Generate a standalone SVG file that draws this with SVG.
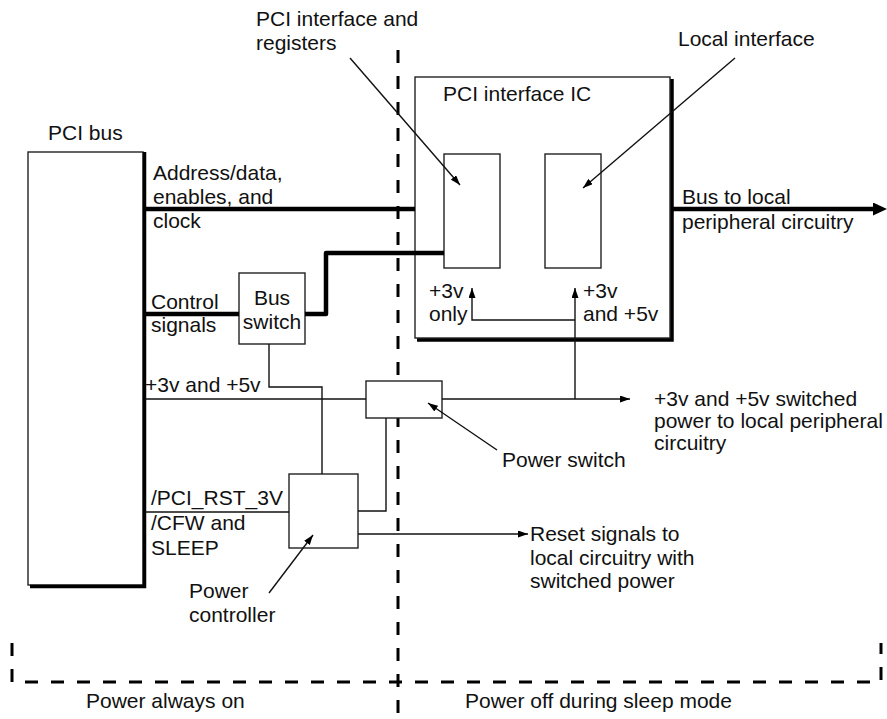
<svg xmlns="http://www.w3.org/2000/svg" width="887" height="719" viewBox="0 0 887 719">
<defs>
<style>
text{font-family:"Liberation Sans",Arial,Helvetica,sans-serif;font-size:21px;fill:#111}
.box{fill:#fff;stroke:#222;stroke-width:1.4}
.shadow{fill:none;stroke:#000;stroke-width:3.5}
.thin{fill:none;stroke:#111;stroke-width:1.4}
.thick{fill:none;stroke:#000;stroke-width:4.5;stroke-linejoin:round}
.dash{fill:none;stroke:#000;stroke-width:3;stroke-dasharray:13 13}
.mid{text-anchor:middle}
</style>
<marker id="arr" markerUnits="userSpaceOnUse" markerWidth="10" markerHeight="7" refX="10" refY="3.5" orient="auto">
<path d="M0,0 L10,3.5 L0,7 z" fill="#000"/>
</marker>
<marker id="bigarr" markerUnits="userSpaceOnUse" markerWidth="15" markerHeight="13" refX="1" refY="6.5" orient="auto">
<path d="M0,0 L14,6.5 L0,13 z" fill="#000"/>
</marker>
</defs>

<g id="region-dividers">
<path class="dash" d="M398,50 V719"/>
<path class="dash" d="M12,643 V682 H881 V643"/>
<text x="86" y="708">Power always on</text>
<text x="465" y="708">Power off during sleep mode</text>
</g>

<g id="pci-bus">
<rect class="box" x="28" y="152" width="115" height="433"/>
<polyline class="shadow" points="30,586.5 144.5,586.5 144.5,152"/>
<text x="48" y="140">PCI bus</text>
</g>

<g id="pci-interface-ic">
<rect class="box" x="415" y="77" width="255" height="261"/>
<polyline class="shadow" points="417,340 672,340 672,79"/>
<text x="443" y="101">PCI interface IC</text>
<text x="429" y="298">+3v</text>
<text x="429" y="321">only</text>
<text x="583" y="298">+3v</text>
<text x="583" y="321">and +5v</text>
</g>

<g id="pci-registers">
<rect class="box" x="444" y="154" width="56" height="114"/>
<text x="256" y="26">PCI interface and</text>
<text x="256" y="50">registers</text>
</g>

<g id="local-interface">
<rect class="box" x="545" y="154" width="56" height="114"/>
<text x="678" y="46">Local interface</text>
</g>

<g id="bus-switch">
<rect class="box" x="239" y="273" width="66" height="71"/>
<text class="mid" x="272" y="305">Bus</text>
<text class="mid" x="272" y="329">switch</text>
</g>

<g id="power-switch">
<rect class="box" x="366" y="381" width="76" height="37"/>
<text x="502" y="467">Power switch</text>
</g>

<g id="power-controller">
<rect class="box" x="289" y="474" width="69" height="74"/>
<text x="189" y="598">Power</text>
<text x="189" y="622">controller</text>
</g>

<g id="connectors">
<line class="thick" x1="145" y1="209" x2="415" y2="209"/>
<line class="thick" x1="672" y1="209" x2="874" y2="209" marker-end="url(#bigarr)"/>
<line class="thick" x1="145" y1="314" x2="239" y2="314"/>
<polyline class="thick" points="305,314 326,314 326,253 444,253"/>
<line class="thin" x1="145" y1="399" x2="366" y2="399"/>
<line class="thin" x1="442" y1="399" x2="630" y2="399" marker-end="url(#arr)"/>
<line class="thin" x1="575" y1="399" x2="575" y2="288" marker-end="url(#arr)"/>
<polyline class="thin" points="575,320 472,320 472,288" marker-end="url(#arr)"/>
<polyline class="thin" points="269,344 269,387 322,387 322,474"/>
<polyline class="thin" points="358,511 386,511 386,418"/>
<line class="thin" x1="145" y1="512" x2="289" y2="512"/>
<line class="thin" x1="358" y1="534" x2="528" y2="534" marker-end="url(#arr)"/>
<line class="thin" x1="350" y1="58" x2="460" y2="185" marker-end="url(#arr)"/>
<line class="thin" x1="735" y1="58" x2="583" y2="188" marker-end="url(#arr)"/>
<line class="thin" x1="497" y1="450" x2="428" y2="403" marker-end="url(#arr)"/>
<line class="thin" x1="269" y1="593" x2="313" y2="535" marker-end="url(#arr)"/>
</g>

<g id="labels">
<text x="153" y="180">Address/data,</text>
<text x="153" y="204">enables, and</text>
<text x="153" y="228">clock</text>
<text x="682" y="204">Bus to local</text>
<text x="682" y="229">peripheral circuitry</text>
<text x="151" y="309">Control</text>
<text x="151" y="332">signals</text>
<text x="145" y="392">+3v and +5v</text>
<text x="654" y="406">+3v and +5v switched</text>
<text x="654" y="428">power to local peripheral</text>
<text x="654" y="450">circuitry</text>
<text x="151" y="505">/PCI_RST_3V</text>
<text x="151" y="530">/CFW and</text>
<text x="151" y="555">SLEEP</text>
<text x="530" y="541">Reset signals to</text>
<text x="530" y="565">local circuitry with</text>
<text x="530" y="588">switched power</text>
</g>
</svg>
